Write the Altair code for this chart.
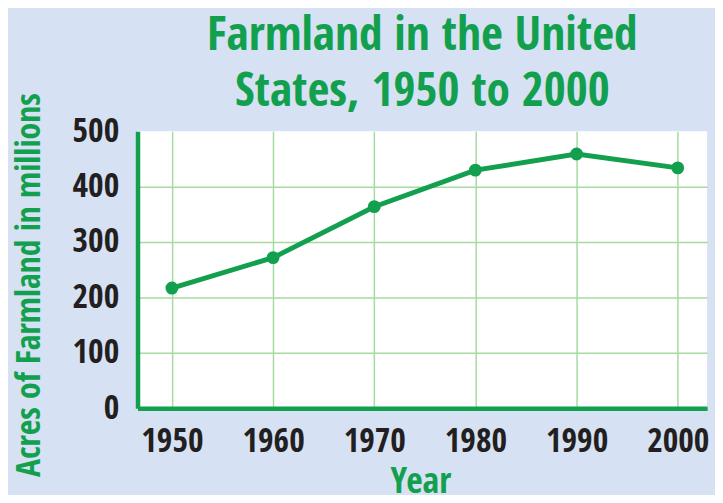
import altair as alt
import pandas as pd

years = [1950, 1960, 1970, 1980, 1990, 2000]
acres = [217, 272, 364, 430, 459, 434]
y_ticks = [0, 100, 200, 300, 400, 500]
title_lines = ["Farmland in the United", "States, 1950 to 2000"]
x_title = "Year"
y_title = "Acres of Farmland in millions"

df = pd.DataFrame({"Year": years, "Acres": acres})

GREEN = "#12a04f"
GRID = "#a6dba0"
LABEL = "#231f20"
FONT = "Open Sans Condensed"

chart = (
    alt.Chart(df)
    .mark_line(
        color=GREEN,
        strokeWidth=5,
        point=alt.OverlayMarkDef(color=GREEN, size=170, filled=True, opacity=1),
    )
    .encode(
        x=alt.X(
            "Year:Q",
            scale=alt.Scale(domain=[1946.6, 2002.9], nice=False, zero=False),
            axis=alt.Axis(
                values=years,
                format="d",
                title=x_title,
                titleFont=FONT,
                titleFontSize=36,
                titleFontWeight="bold",
                titleColor=GREEN,
                titleX=286,
                titleY=74,
                titleBaseline="middle",
                titleAlign="center",
                labelFont=FONT,
                labelFontSize=34,
                labelFontWeight="bold",
                labelColor=LABEL,
                labelPadding=17,
                ticks=False,
                tickSize=0,
                domainColor=GREEN,
                domainWidth=4.5,
                gridColor=GRID,
                gridWidth=1.5,
            ),
        ),
        y=alt.Y(
            "Acres:Q",
            scale=alt.Scale(domain=[0, 500], nice=False),
            axis=alt.Axis(
                values=y_ticks,
                title=y_title,
                titleFont=FONT,
                titleFontSize=34,
                titleFontWeight="bold",
                titleColor=GREEN,
                titleAngle=-90,
                titleX=-109,
                titleY=155,
                titleBaseline="middle",
                titleAlign="center",
                labelFont=FONT,
                labelFontSize=34,
                labelFontWeight="bold",
                labelColor=LABEL,
                labelPadding=19,
                ticks=False,
                tickSize=0,
                domainColor=GREEN,
                domainWidth=4.5,
                gridColor=GRID,
                gridWidth=1.5,
                gridOpacity=alt.condition("datum.value == 500", alt.value(0), alt.value(1)),
            ),
        ),
    )
    .properties(
        width=576,
        height=280,
        title=alt.TitleParams(
            text=title_lines,
            font=FONT,
            fontSize=48,
            fontWeight="bold",
            color=GREEN,
            lineHeight=56,
            anchor="middle",
            frame="group",
            offset=14,
            dy=37,
        ),
        autosize=alt.AutoSizeParams(type="none"),
        padding={"left": 131, "top": 122, "right": 8, "bottom": 85},
        background="#d6e2f3",
    )
    .configure_view(fill="white", strokeWidth=0)
)

chart.save("out.html", embed_options={"renderer": "svg", "actions": False})
